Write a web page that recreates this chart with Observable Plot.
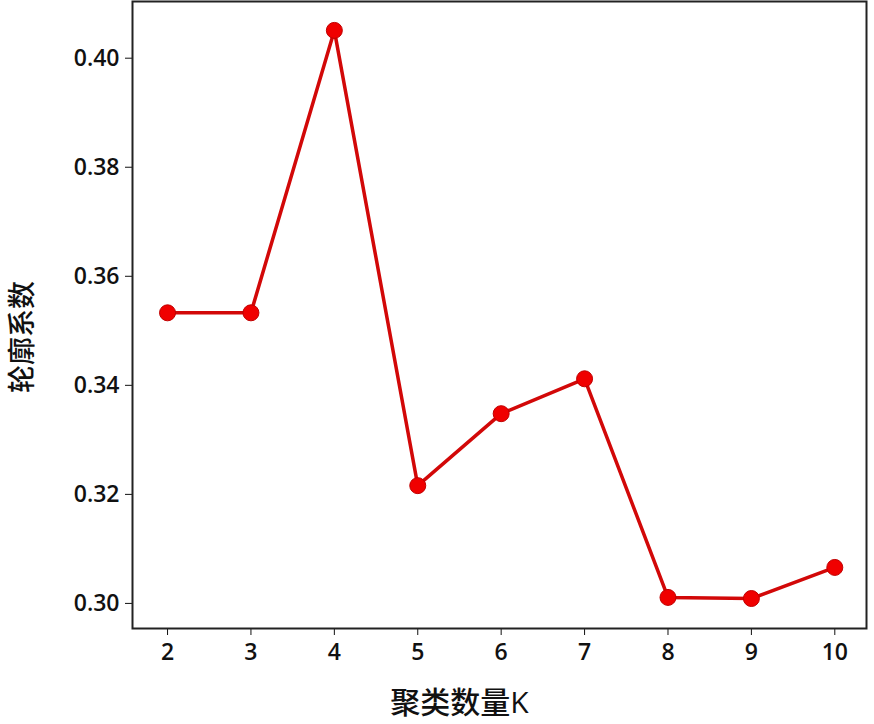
<!DOCTYPE html>
<html>
<head>
<meta charset="utf-8">
<script src="https://cdn.jsdelivr.net/npm/d3@7"></script>
<script src="https://cdn.jsdelivr.net/npm/@observablehq/plot@0.6"></script>
<style>
  html, body { margin: 0; padding: 0; background: #fff; }
  #chart svg { display: block; }
</style>
</head>
<body>
<div id="chart"></div>
<script>
const kValues = [2, 3, 4, 5, 6, 7, 8, 9, 10];
const silhouette = [0.3533, 0.3533, 0.4051, 0.3216, 0.3348, 0.3412, 0.3011, 0.3009, 0.3066];
const yTicks = [0.30, 0.32, 0.34, 0.36, 0.38, 0.40];
const xLabel = "聚类数量K";
const yLabel = "轮廓系数";

const data = kValues.map((k, i) => ({k, s: silhouette[i]}));

const chart = Plot.plot({
  width: 874,
  height: 724,
  marginLeft: 132,
  marginRight: 8,
  marginTop: 1,
  marginBottom: 96,
  style: {fontFamily: "'Open Sans', 'Noto Sans CJK SC', sans-serif", fontSize: "23px", fontWeight: 600, color: "#111", background: "#fff"},
  x: {domain: [1.58, 10.38], ticks: kValues, tickFormat: d => String(d), tickSize: 7, tickPadding: 8, label: null},
  y: {domain: [0.2954, 0.4104], ticks: yTicks, tickFormat: d3.format(".2f"), tickSize: 7, tickPadding: 6, label: null},
  marks: [
    Plot.frame({stroke: "#222", strokeWidth: 2}),
    Plot.line(data, {x: "k", y: "s", stroke: "#d20808", strokeWidth: 3.5}),
    Plot.dot(data, {x: "k", y: "s", r: 8, fill: "#f00000", stroke: "#c00000", strokeWidth: 1}),
    Plot.text([xLabel], {frameAnchor: "bottom", dx: -40, dy: 84, text: d => d, fontSize: 30, fontWeight: 500, fill: "#111"}),
    Plot.text([yLabel], {frameAnchor: "left", textAnchor: "middle", dx: -109, dy: 22, rotate: -90, text: d => d, fontSize: 28, fontWeight: 500, fill: "#111"})
  ]
});
document.getElementById("chart").appendChild(chart);
</script>
</body>
</html>
